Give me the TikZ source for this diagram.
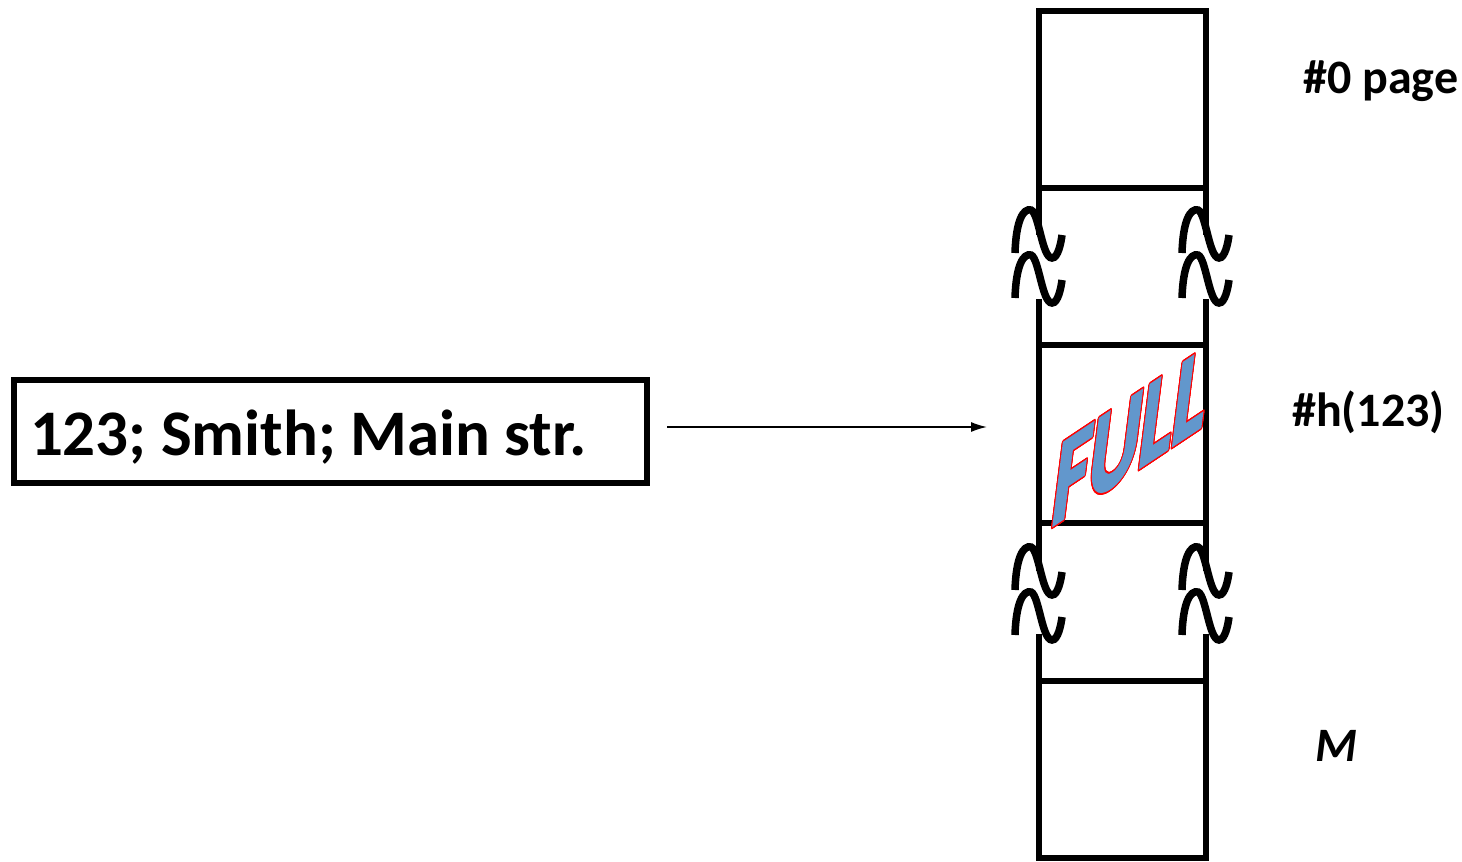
\documentclass[tikz,border=0pt]{standalone}
\usepackage{fontspec}
\setmainfont{Carlito}
\newfontfamily\wordart[FakeBold=2.5]{Carlito Bold}
\usepackage{contour}
\usetikzlibrary{arrows.meta}
\definecolor{fullblue}{RGB}{98,151,204}
\contourlength{1.4pt}
\tikzset{
  cell/.style={line width=6pt, line cap=rect},
  wave/.style={line width=7.5pt},
  lbl/.style={anchor=base west, inner sep=0pt, font=\fontsize{48}{50}\selectfont\bfseries},
  brk/.pic={
    \draw[wave] (0,0) .. controls (1,-32) and (8,-45) .. (16,-43) .. controls (24,-40) and (27,5) .. (37,5) .. controls (43,5) and (46,-10) .. (47,-18);
    \draw[wave, shift={(0,45)}] (0,0) .. controls (1,-32) and (8,-45) .. (16,-43) .. controls (24,-40) and (27,5) .. (37,5) .. controls (43,5) and (46,-10) .. (47,-18);
  }
}
\begin{document}
\begin{tikzpicture}[x=1pt,y=-1pt]
  \useasboundingbox (0,0) rectangle (1462,862);

  % Draw the record to be stored
  \node[draw, line width=6pt, text width=601pt, align=left, inner xsep=16pt,
        minimum height=103pt, anchor=west, font=\fontsize{65}{70}\selectfont\bfseries]
        (rec) at (11,431.5) {\raisebox{-6pt}[\height][\depth]{\spaceskip=0.22em\relax 123; Smith; Main str.}};

  % Draw the column of pages
  \draw[cell] (1039,11) -- (1206,11);
  \foreach \y in {188,345,523,681,858}
    \draw[cell] (1039,\y) -- (1206,\y);
  \foreach \x in {1039,1206} {
    \draw[cell] (\x,11) -- (\x,232);
    \draw[cell] (\x,302) -- (\x,568);
    \draw[cell] (\x,637) -- (\x,858);
  }

  % Breaks in the column
  \foreach \x in {1015,1182}
    \foreach \y in {253,590}
      \pic at (\x,\y) {brk};

  % Label for the full page
  \begin{scope}[shift={(1049,528)}]
    \node[transform shape, cm={0.78,0.52,0.16,1.27,(0,0)}, anchor=base west, inner sep=0pt,
          font=\fontsize{100}{100}\selectfont\wordart]
          (full) at (0,0) {\contour{red}{\textcolor{fullblue}{FULL}}};
  \end{scope}

  % Labels for the pages
  \node[lbl] (pg0) at (1303,93) {\#0 page};
  \node[lbl] (hpos) at (1292,426) {\#h(123)};
  \node[lbl, font=\fontsize{48}{50}\selectfont\bfseries\itshape] (last) at (1315,761) {M};

  % Arrow from the record to its page
  \coordinate (src) at (667,427);
  \coordinate (slot) at (987,427);
  \draw[-{Latex[length=16pt,width=10pt]}, line width=1.5pt] (src) -- (slot);
\end{tikzpicture}
\end{document}
